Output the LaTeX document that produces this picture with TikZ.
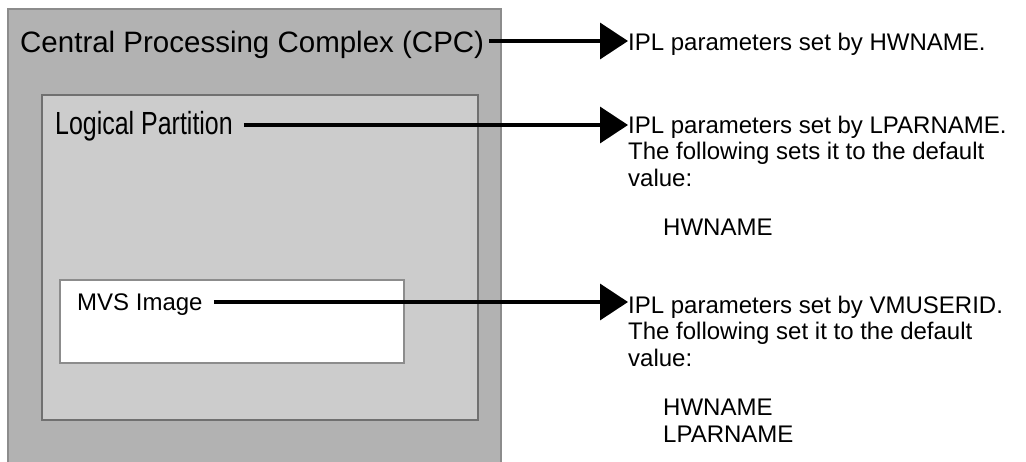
\documentclass[tikz,border=0pt]{standalone}
\usepackage{fontspec}
\setmainfont{Liberation Sans}
\newfontfamily\narrowfont[FakeStretch=0.78]{Liberation Sans}
\usetikzlibrary{arrows.meta}

\definecolor{cpcgray}{HTML}{B2B2B2}
\definecolor{lpgray}{HTML}{CCCCCC}
\definecolor{edgegray}{HTML}{8C8C8C}
\definecolor{darkedge}{HTML}{707070}

\tikzstyle{label} = [inner sep=0pt,anchor=base west]
\tikzstyle{note}  = [inner sep=0pt,anchor=base west,
                     font=\fontsize{24}{26.5}\selectfont]
\tikzstyle{arrow} = [line width=3.5pt,-{Triangle[length=28pt,width=36pt]}]

\begin{document}
\begin{tikzpicture}[x=1pt,y=-1pt]
  \clip (0,0) rectangle (1026,461);
  \fill[white] (0,0) rectangle (1026,461);

  % boxes
  \filldraw[fill=cpcgray,draw=edgegray,line width=1.5pt] (8,9) rectangle (501,475);
  \filldraw[fill=lpgray,draw=darkedge,line width=2pt] (42,95) rectangle (478,420);
  \filldraw[fill=white,draw=edgegray,line width=1.2pt] (60,280) rectangle (404,363);

  \node[label,font=\fontsize{29.5}{34}\selectfont] at (20,52.5) (cpc)
    {Central Processing Complex (CPC)};
  \node[label,font=\narrowfont\fontsize{32}{36}\selectfont] at (55,134.5) (lpar)
    {Logical Partition};
  \node[label,font=\fontsize{24}{28}\selectfont] at (77,310) (mvs)
    {MVS Image};

  \node[note] at (628,50) (hw) {IPL parameters set by HWNAME.};
  \node[note] at (628,133) (lp) {\begin{tabular}[t]{@{}l@{}}
    IPL parameters set by LPARNAME.\\
    The following sets it to the default\\
    value:\\[23pt]
    \hspace*{35pt}HWNAME
  \end{tabular}};
  \node[note] at (628,313) (vm) {\begin{tabular}[t]{@{}l@{}}
    IPL parameters set by VMUSERID.\\
    The following set it to the default\\
    value:\\[23pt]
    \hspace*{35pt}HWNAME\\
    \hspace*{35pt}LPARNAME
  \end{tabular}};

  \draw[arrow] ([xshift=5pt,yshift=11.5pt]cpc.base east) coordinate (a1) -- (a1 -| hw.west);
  \draw[arrow] ([xshift=11pt,yshift=9.5pt]lpar.base east) coordinate (a2) -- (a2 -| lp.west);
  \draw[arrow] ([xshift=11pt,yshift=8pt]mvs.base east) coordinate (a3) -- (a3 -| vm.west);
\end{tikzpicture}
\end{document}
